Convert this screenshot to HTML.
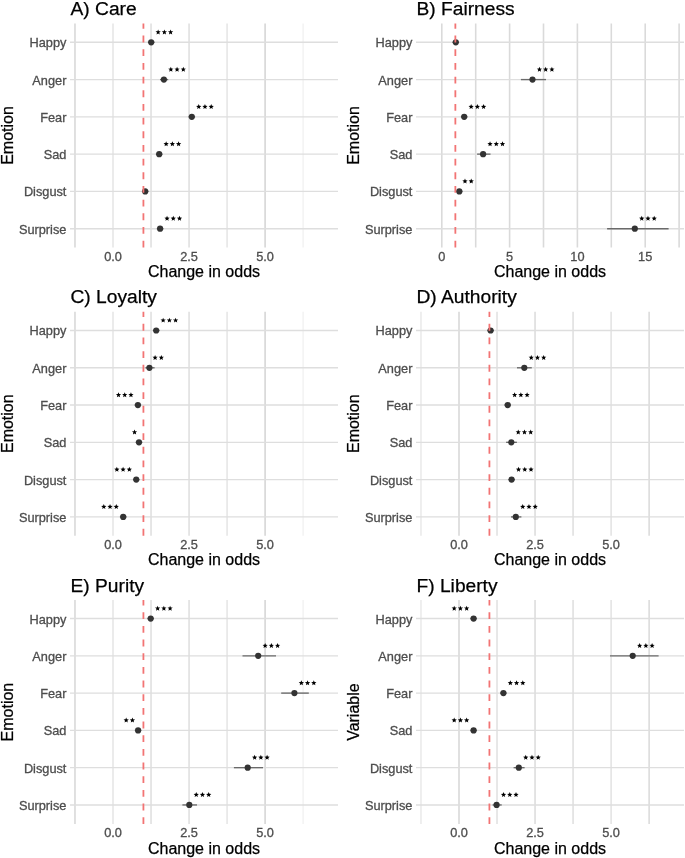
<!DOCTYPE html>
<html><head><meta charset="utf-8"><style>
html,body{margin:0;padding:0;background:#fff;}
svg{display:block;will-change:transform;}
text{font-family:"Liberation Sans",sans-serif;}
.gv{stroke-width:1.6;}
.gh{stroke:#dedede;stroke-width:1.4;}
.ref{stroke:#f27474;stroke-width:1.8;stroke-dasharray:6.83 6.84;}
.pt{fill:#333;}
.sr{fill:#000;}
.err{stroke:#6a6a6a;stroke-width:1.35;}
.yt{font-size:12.75px;fill:#4d4d4d;stroke:#4d4d4d;stroke-width:0.3;text-anchor:end;}
.xt{font-size:12.75px;fill:#4d4d4d;stroke:#4d4d4d;stroke-width:0.3;text-anchor:middle;}
.ttl{font-size:19.2px;fill:#000;stroke:#000;stroke-width:0.25;}
.axt{font-size:16px;fill:#000;stroke:#000;stroke-width:0.25;text-anchor:middle;}
</style></head><body>
<svg width="685" height="858" viewBox="0 0 685 858">
<rect width="685" height="858" fill="#fff"/>
<g transform="translate(0,0)">
<line class="gv" stroke="#d9d9d9" x1="74.97" y1="23.5" x2="74.97" y2="247.5"/>
<line class="gv" stroke="#e6e6e6" x1="113" y1="23.5" x2="113" y2="247.5"/>
<line class="gv" stroke="#e0e0e0" x1="151.03" y1="23.5" x2="151.03" y2="247.5"/>
<line class="gv" stroke="#e0e0e0" x1="189.05" y1="23.5" x2="189.05" y2="247.5"/>
<line class="gv" stroke="#e6e6e6" x1="227.07" y1="23.5" x2="227.07" y2="247.5"/>
<line class="gv" stroke="#d6d6d6" x1="265.1" y1="23.5" x2="265.1" y2="247.5"/>
<line class="gv" stroke="#f3f3f3" x1="303.12" y1="23.5" x2="303.12" y2="247.5"/>
<line class="gh" x1="70" y1="42.3" x2="338" y2="42.3"/>
<line class="gh" x1="70" y1="79.58" x2="338" y2="79.58"/>
<line class="gh" x1="70" y1="116.86" x2="338" y2="116.86"/>
<line class="gh" x1="70" y1="154.14" x2="338" y2="154.14"/>
<line class="gh" x1="70" y1="191.42" x2="338" y2="191.42"/>
<line class="gh" x1="70" y1="228.7" x2="338" y2="228.7"/>
<line class="err" x1="147.9" y1="42.3" x2="154.5" y2="42.3"/>
<circle class="pt" cx="151.2" cy="42.3" r="3.1"/>
<polygon class="sr" transform="translate(158.14,32.2)" points="0.00,-2.75 0.71,-0.98 2.62,-0.85 1.15,0.37 1.62,2.22 0.00,1.21 -1.62,2.22 -1.15,0.37 -2.62,-0.85 -0.71,-0.98"/>
<polygon class="sr" transform="translate(164.37,32.2)" points="0.00,-2.75 0.71,-0.98 2.62,-0.85 1.15,0.37 1.62,2.22 0.00,1.21 -1.62,2.22 -1.15,0.37 -2.62,-0.85 -0.71,-0.98"/>
<polygon class="sr" transform="translate(170.6,32.2)" points="0.00,-2.75 0.71,-0.98 2.62,-0.85 1.15,0.37 1.62,2.22 0.00,1.21 -1.62,2.22 -1.15,0.37 -2.62,-0.85 -0.71,-0.98"/>
<line class="err" x1="160" y1="79.58" x2="168.2" y2="79.58"/>
<circle class="pt" cx="163.9" cy="79.58" r="3.1"/>
<polygon class="sr" transform="translate(170.84,69.48)" points="0.00,-2.75 0.71,-0.98 2.62,-0.85 1.15,0.37 1.62,2.22 0.00,1.21 -1.62,2.22 -1.15,0.37 -2.62,-0.85 -0.71,-0.98"/>
<polygon class="sr" transform="translate(177.07,69.48)" points="0.00,-2.75 0.71,-0.98 2.62,-0.85 1.15,0.37 1.62,2.22 0.00,1.21 -1.62,2.22 -1.15,0.37 -2.62,-0.85 -0.71,-0.98"/>
<polygon class="sr" transform="translate(183.3,69.48)" points="0.00,-2.75 0.71,-0.98 2.62,-0.85 1.15,0.37 1.62,2.22 0.00,1.21 -1.62,2.22 -1.15,0.37 -2.62,-0.85 -0.71,-0.98"/>
<line class="err" x1="188.5" y1="116.86" x2="195.1" y2="116.86"/>
<circle class="pt" cx="191.8" cy="116.86" r="3.1"/>
<polygon class="sr" transform="translate(198.74,106.76)" points="0.00,-2.75 0.71,-0.98 2.62,-0.85 1.15,0.37 1.62,2.22 0.00,1.21 -1.62,2.22 -1.15,0.37 -2.62,-0.85 -0.71,-0.98"/>
<polygon class="sr" transform="translate(204.97,106.76)" points="0.00,-2.75 0.71,-0.98 2.62,-0.85 1.15,0.37 1.62,2.22 0.00,1.21 -1.62,2.22 -1.15,0.37 -2.62,-0.85 -0.71,-0.98"/>
<polygon class="sr" transform="translate(211.2,106.76)" points="0.00,-2.75 0.71,-0.98 2.62,-0.85 1.15,0.37 1.62,2.22 0.00,1.21 -1.62,2.22 -1.15,0.37 -2.62,-0.85 -0.71,-0.98"/>
<line class="err" x1="155.9" y1="154.14" x2="162.5" y2="154.14"/>
<circle class="pt" cx="159.2" cy="154.14" r="3.1"/>
<polygon class="sr" transform="translate(166.14,144.04)" points="0.00,-2.75 0.71,-0.98 2.62,-0.85 1.15,0.37 1.62,2.22 0.00,1.21 -1.62,2.22 -1.15,0.37 -2.62,-0.85 -0.71,-0.98"/>
<polygon class="sr" transform="translate(172.37,144.04)" points="0.00,-2.75 0.71,-0.98 2.62,-0.85 1.15,0.37 1.62,2.22 0.00,1.21 -1.62,2.22 -1.15,0.37 -2.62,-0.85 -0.71,-0.98"/>
<polygon class="sr" transform="translate(178.6,144.04)" points="0.00,-2.75 0.71,-0.98 2.62,-0.85 1.15,0.37 1.62,2.22 0.00,1.21 -1.62,2.22 -1.15,0.37 -2.62,-0.85 -0.71,-0.98"/>
<line class="err" x1="141.9" y1="191.42" x2="148.5" y2="191.42"/>
<circle class="pt" cx="145.2" cy="191.42" r="3.1"/>
<line class="err" x1="156.8" y1="228.7" x2="163.4" y2="228.7"/>
<circle class="pt" cx="160.1" cy="228.7" r="3.1"/>
<polygon class="sr" transform="translate(167.04,218.6)" points="0.00,-2.75 0.71,-0.98 2.62,-0.85 1.15,0.37 1.62,2.22 0.00,1.21 -1.62,2.22 -1.15,0.37 -2.62,-0.85 -0.71,-0.98"/>
<polygon class="sr" transform="translate(173.27,218.6)" points="0.00,-2.75 0.71,-0.98 2.62,-0.85 1.15,0.37 1.62,2.22 0.00,1.21 -1.62,2.22 -1.15,0.37 -2.62,-0.85 -0.71,-0.98"/>
<polygon class="sr" transform="translate(179.5,218.6)" points="0.00,-2.75 0.71,-0.98 2.62,-0.85 1.15,0.37 1.62,2.22 0.00,1.21 -1.62,2.22 -1.15,0.37 -2.62,-0.85 -0.71,-0.98"/>
<line class="ref" x1="143.42" y1="247.5" x2="143.42" y2="23.5"/>
<text class="yt" x="66.4" y="47.3">Happy</text>
<text class="yt" x="66.4" y="84.58">Anger</text>
<text class="yt" x="66.4" y="121.86">Fear</text>
<text class="yt" x="66.4" y="159.14">Sad</text>
<text class="yt" x="66.4" y="196.42">Disgust</text>
<text class="yt" x="66.4" y="233.7">Surprise</text>
<text class="xt" x="113" y="260.8">0.0</text>
<text class="xt" x="189.05" y="260.8">2.5</text>
<text class="xt" x="265.1" y="260.8">5.0</text>
<text class="ttl" x="70.5" y="15">A) Care</text>
<text class="axt" x="204" y="277.3">Change in odds</text>
<text class="axt" transform="translate(13,135.5) rotate(-90)" x="0" y="0">Emotion</text>
</g>
<g transform="translate(346,0)">
<line class="gv" stroke="#dadada" x1="95.8" y1="23.5" x2="95.8" y2="247.5"/>
<line class="gv" stroke="#dadada" x1="129.7" y1="23.5" x2="129.7" y2="247.5"/>
<line class="gv" stroke="#dadada" x1="163.6" y1="23.5" x2="163.6" y2="247.5"/>
<line class="gv" stroke="#dadada" x1="197.5" y1="23.5" x2="197.5" y2="247.5"/>
<line class="gv" stroke="#dadada" x1="231.4" y1="23.5" x2="231.4" y2="247.5"/>
<line class="gv" stroke="#dadada" x1="265.3" y1="23.5" x2="265.3" y2="247.5"/>
<line class="gv" stroke="#dadada" x1="299.2" y1="23.5" x2="299.2" y2="247.5"/>
<line class="gv" stroke="#dadada" x1="333.1" y1="23.5" x2="333.1" y2="247.5"/>
<line class="gh" x1="70" y1="42.3" x2="338" y2="42.3"/>
<line class="gh" x1="70" y1="79.58" x2="338" y2="79.58"/>
<line class="gh" x1="70" y1="116.86" x2="338" y2="116.86"/>
<line class="gh" x1="70" y1="154.14" x2="338" y2="154.14"/>
<line class="gh" x1="70" y1="191.42" x2="338" y2="191.42"/>
<line class="gh" x1="70" y1="228.7" x2="338" y2="228.7"/>
<line class="err" x1="106.5" y1="42.3" x2="113.1" y2="42.3"/>
<circle class="pt" cx="109.8" cy="42.3" r="3.1"/>
<line class="err" x1="174.9" y1="79.58" x2="200" y2="79.58"/>
<circle class="pt" cx="186.5" cy="79.58" r="3.1"/>
<polygon class="sr" transform="translate(193.44,69.48)" points="0.00,-2.75 0.71,-0.98 2.62,-0.85 1.15,0.37 1.62,2.22 0.00,1.21 -1.62,2.22 -1.15,0.37 -2.62,-0.85 -0.71,-0.98"/>
<polygon class="sr" transform="translate(199.67,69.48)" points="0.00,-2.75 0.71,-0.98 2.62,-0.85 1.15,0.37 1.62,2.22 0.00,1.21 -1.62,2.22 -1.15,0.37 -2.62,-0.85 -0.71,-0.98"/>
<polygon class="sr" transform="translate(205.9,69.48)" points="0.00,-2.75 0.71,-0.98 2.62,-0.85 1.15,0.37 1.62,2.22 0.00,1.21 -1.62,2.22 -1.15,0.37 -2.62,-0.85 -0.71,-0.98"/>
<line class="err" x1="114.9" y1="116.86" x2="121.5" y2="116.86"/>
<circle class="pt" cx="118.2" cy="116.86" r="3.1"/>
<polygon class="sr" transform="translate(125.14,106.76)" points="0.00,-2.75 0.71,-0.98 2.62,-0.85 1.15,0.37 1.62,2.22 0.00,1.21 -1.62,2.22 -1.15,0.37 -2.62,-0.85 -0.71,-0.98"/>
<polygon class="sr" transform="translate(131.37,106.76)" points="0.00,-2.75 0.71,-0.98 2.62,-0.85 1.15,0.37 1.62,2.22 0.00,1.21 -1.62,2.22 -1.15,0.37 -2.62,-0.85 -0.71,-0.98"/>
<polygon class="sr" transform="translate(137.6,106.76)" points="0.00,-2.75 0.71,-0.98 2.62,-0.85 1.15,0.37 1.62,2.22 0.00,1.21 -1.62,2.22 -1.15,0.37 -2.62,-0.85 -0.71,-0.98"/>
<line class="err" x1="131.1" y1="154.14" x2="144.5" y2="154.14"/>
<circle class="pt" cx="137.1" cy="154.14" r="3.1"/>
<polygon class="sr" transform="translate(144.04,144.04)" points="0.00,-2.75 0.71,-0.98 2.62,-0.85 1.15,0.37 1.62,2.22 0.00,1.21 -1.62,2.22 -1.15,0.37 -2.62,-0.85 -0.71,-0.98"/>
<polygon class="sr" transform="translate(150.27,144.04)" points="0.00,-2.75 0.71,-0.98 2.62,-0.85 1.15,0.37 1.62,2.22 0.00,1.21 -1.62,2.22 -1.15,0.37 -2.62,-0.85 -0.71,-0.98"/>
<polygon class="sr" transform="translate(156.5,144.04)" points="0.00,-2.75 0.71,-0.98 2.62,-0.85 1.15,0.37 1.62,2.22 0.00,1.21 -1.62,2.22 -1.15,0.37 -2.62,-0.85 -0.71,-0.98"/>
<line class="err" x1="110" y1="191.42" x2="116.6" y2="191.42"/>
<circle class="pt" cx="113.3" cy="191.42" r="3.1"/>
<polygon class="sr" transform="translate(118.99,181.32)" points="0.00,-2.75 0.71,-0.98 2.62,-0.85 1.15,0.37 1.62,2.22 0.00,1.21 -1.62,2.22 -1.15,0.37 -2.62,-0.85 -0.71,-0.98"/>
<polygon class="sr" transform="translate(125.22,181.32)" points="0.00,-2.75 0.71,-0.98 2.62,-0.85 1.15,0.37 1.62,2.22 0.00,1.21 -1.62,2.22 -1.15,0.37 -2.62,-0.85 -0.71,-0.98"/>
<line class="err" x1="261.1" y1="228.7" x2="322.6" y2="228.7"/>
<circle class="pt" cx="288.8" cy="228.7" r="3.1"/>
<polygon class="sr" transform="translate(295.74,218.6)" points="0.00,-2.75 0.71,-0.98 2.62,-0.85 1.15,0.37 1.62,2.22 0.00,1.21 -1.62,2.22 -1.15,0.37 -2.62,-0.85 -0.71,-0.98"/>
<polygon class="sr" transform="translate(301.97,218.6)" points="0.00,-2.75 0.71,-0.98 2.62,-0.85 1.15,0.37 1.62,2.22 0.00,1.21 -1.62,2.22 -1.15,0.37 -2.62,-0.85 -0.71,-0.98"/>
<polygon class="sr" transform="translate(308.2,218.6)" points="0.00,-2.75 0.71,-0.98 2.62,-0.85 1.15,0.37 1.62,2.22 0.00,1.21 -1.62,2.22 -1.15,0.37 -2.62,-0.85 -0.71,-0.98"/>
<line class="ref" x1="109.36" y1="247.5" x2="109.36" y2="23.5"/>
<text class="yt" x="66.4" y="47.3">Happy</text>
<text class="yt" x="66.4" y="84.58">Anger</text>
<text class="yt" x="66.4" y="121.86">Fear</text>
<text class="yt" x="66.4" y="159.14">Sad</text>
<text class="yt" x="66.4" y="196.42">Disgust</text>
<text class="yt" x="66.4" y="233.7">Surprise</text>
<text class="xt" x="95.8" y="260.8">0</text>
<text class="xt" x="163.6" y="260.8">5</text>
<text class="xt" x="231.4" y="260.8">10</text>
<text class="xt" x="299.2" y="260.8">15</text>
<text class="ttl" x="70.5" y="15">B) Fairness</text>
<text class="axt" x="204" y="277.3">Change in odds</text>
<text class="axt" transform="translate(13,135.5) rotate(-90)" x="0" y="0">Emotion</text>
</g>
<g transform="translate(0,288.2)">
<line class="gv" stroke="#d9d9d9" x1="74.97" y1="23.5" x2="74.97" y2="247.5"/>
<line class="gv" stroke="#e6e6e6" x1="113" y1="23.5" x2="113" y2="247.5"/>
<line class="gv" stroke="#e0e0e0" x1="151.03" y1="23.5" x2="151.03" y2="247.5"/>
<line class="gv" stroke="#e0e0e0" x1="189.05" y1="23.5" x2="189.05" y2="247.5"/>
<line class="gv" stroke="#e6e6e6" x1="227.07" y1="23.5" x2="227.07" y2="247.5"/>
<line class="gv" stroke="#d6d6d6" x1="265.1" y1="23.5" x2="265.1" y2="247.5"/>
<line class="gv" stroke="#f3f3f3" x1="303.12" y1="23.5" x2="303.12" y2="247.5"/>
<line class="gh" x1="70" y1="42.3" x2="338" y2="42.3"/>
<line class="gh" x1="70" y1="79.58" x2="338" y2="79.58"/>
<line class="gh" x1="70" y1="116.86" x2="338" y2="116.86"/>
<line class="gh" x1="70" y1="154.14" x2="338" y2="154.14"/>
<line class="gh" x1="70" y1="191.42" x2="338" y2="191.42"/>
<line class="gh" x1="70" y1="228.7" x2="338" y2="228.7"/>
<line class="err" x1="152.9" y1="42.3" x2="159.5" y2="42.3"/>
<circle class="pt" cx="156.2" cy="42.3" r="3.1"/>
<polygon class="sr" transform="translate(163.14,32.2)" points="0.00,-2.75 0.71,-0.98 2.62,-0.85 1.15,0.37 1.62,2.22 0.00,1.21 -1.62,2.22 -1.15,0.37 -2.62,-0.85 -0.71,-0.98"/>
<polygon class="sr" transform="translate(169.37,32.2)" points="0.00,-2.75 0.71,-0.98 2.62,-0.85 1.15,0.37 1.62,2.22 0.00,1.21 -1.62,2.22 -1.15,0.37 -2.62,-0.85 -0.71,-0.98"/>
<polygon class="sr" transform="translate(175.6,32.2)" points="0.00,-2.75 0.71,-0.98 2.62,-0.85 1.15,0.37 1.62,2.22 0.00,1.21 -1.62,2.22 -1.15,0.37 -2.62,-0.85 -0.71,-0.98"/>
<line class="err" x1="145.4" y1="79.58" x2="154.6" y2="79.58"/>
<circle class="pt" cx="149.4" cy="79.58" r="3.1"/>
<polygon class="sr" transform="translate(155.09,69.48)" points="0.00,-2.75 0.71,-0.98 2.62,-0.85 1.15,0.37 1.62,2.22 0.00,1.21 -1.62,2.22 -1.15,0.37 -2.62,-0.85 -0.71,-0.98"/>
<polygon class="sr" transform="translate(161.32,69.48)" points="0.00,-2.75 0.71,-0.98 2.62,-0.85 1.15,0.37 1.62,2.22 0.00,1.21 -1.62,2.22 -1.15,0.37 -2.62,-0.85 -0.71,-0.98"/>
<line class="err" x1="134.6" y1="116.86" x2="141.2" y2="116.86"/>
<circle class="pt" cx="137.9" cy="116.86" r="3.1"/>
<polygon class="sr" transform="translate(130.96,106.76)" points="0.00,-2.75 0.71,-0.98 2.62,-0.85 1.15,0.37 1.62,2.22 0.00,1.21 -1.62,2.22 -1.15,0.37 -2.62,-0.85 -0.71,-0.98"/>
<polygon class="sr" transform="translate(124.73,106.76)" points="0.00,-2.75 0.71,-0.98 2.62,-0.85 1.15,0.37 1.62,2.22 0.00,1.21 -1.62,2.22 -1.15,0.37 -2.62,-0.85 -0.71,-0.98"/>
<polygon class="sr" transform="translate(118.5,106.76)" points="0.00,-2.75 0.71,-0.98 2.62,-0.85 1.15,0.37 1.62,2.22 0.00,1.21 -1.62,2.22 -1.15,0.37 -2.62,-0.85 -0.71,-0.98"/>
<line class="err" x1="135.7" y1="154.14" x2="142.3" y2="154.14"/>
<circle class="pt" cx="139" cy="154.14" r="3.1"/>
<polygon class="sr" transform="translate(134.55,144.04)" points="0.00,-2.75 0.71,-0.98 2.62,-0.85 1.15,0.37 1.62,2.22 0.00,1.21 -1.62,2.22 -1.15,0.37 -2.62,-0.85 -0.71,-0.98"/>
<line class="err" x1="132.95" y1="191.42" x2="139.55" y2="191.42"/>
<circle class="pt" cx="136.25" cy="191.42" r="3.1"/>
<polygon class="sr" transform="translate(129.31,181.32)" points="0.00,-2.75 0.71,-0.98 2.62,-0.85 1.15,0.37 1.62,2.22 0.00,1.21 -1.62,2.22 -1.15,0.37 -2.62,-0.85 -0.71,-0.98"/>
<polygon class="sr" transform="translate(123.08,181.32)" points="0.00,-2.75 0.71,-0.98 2.62,-0.85 1.15,0.37 1.62,2.22 0.00,1.21 -1.62,2.22 -1.15,0.37 -2.62,-0.85 -0.71,-0.98"/>
<polygon class="sr" transform="translate(116.85,181.32)" points="0.00,-2.75 0.71,-0.98 2.62,-0.85 1.15,0.37 1.62,2.22 0.00,1.21 -1.62,2.22 -1.15,0.37 -2.62,-0.85 -0.71,-0.98"/>
<line class="err" x1="119.9" y1="228.7" x2="126.5" y2="228.7"/>
<circle class="pt" cx="123.2" cy="228.7" r="3.1"/>
<polygon class="sr" transform="translate(116.26,218.6)" points="0.00,-2.75 0.71,-0.98 2.62,-0.85 1.15,0.37 1.62,2.22 0.00,1.21 -1.62,2.22 -1.15,0.37 -2.62,-0.85 -0.71,-0.98"/>
<polygon class="sr" transform="translate(110.03,218.6)" points="0.00,-2.75 0.71,-0.98 2.62,-0.85 1.15,0.37 1.62,2.22 0.00,1.21 -1.62,2.22 -1.15,0.37 -2.62,-0.85 -0.71,-0.98"/>
<polygon class="sr" transform="translate(103.8,218.6)" points="0.00,-2.75 0.71,-0.98 2.62,-0.85 1.15,0.37 1.62,2.22 0.00,1.21 -1.62,2.22 -1.15,0.37 -2.62,-0.85 -0.71,-0.98"/>
<line class="ref" x1="143.42" y1="247.5" x2="143.42" y2="23.5"/>
<text class="yt" x="66.4" y="47.3">Happy</text>
<text class="yt" x="66.4" y="84.58">Anger</text>
<text class="yt" x="66.4" y="121.86">Fear</text>
<text class="yt" x="66.4" y="159.14">Sad</text>
<text class="yt" x="66.4" y="196.42">Disgust</text>
<text class="yt" x="66.4" y="233.7">Surprise</text>
<text class="xt" x="113" y="260.8">0.0</text>
<text class="xt" x="189.05" y="260.8">2.5</text>
<text class="xt" x="265.1" y="260.8">5.0</text>
<text class="ttl" x="70.5" y="15">C) Loyalty</text>
<text class="axt" x="204" y="277.3">Change in odds</text>
<text class="axt" transform="translate(13,135.5) rotate(-90)" x="0" y="0">Emotion</text>
</g>
<g transform="translate(346,288.2)">
<line class="gv" stroke="#ebebeb" x1="74.97" y1="23.5" x2="74.97" y2="247.5"/>
<line class="gv" stroke="#d9d9d9" x1="113" y1="23.5" x2="113" y2="247.5"/>
<line class="gv" stroke="#e2e2e2" x1="151.03" y1="23.5" x2="151.03" y2="247.5"/>
<line class="gv" stroke="#dddddd" x1="189.05" y1="23.5" x2="189.05" y2="247.5"/>
<line class="gv" stroke="#e0e0e0" x1="227.07" y1="23.5" x2="227.07" y2="247.5"/>
<line class="gv" stroke="#e4e4e4" x1="265.1" y1="23.5" x2="265.1" y2="247.5"/>
<line class="gv" stroke="#dcdcdc" x1="303.12" y1="23.5" x2="303.12" y2="247.5"/>
<line class="gh" x1="70" y1="42.3" x2="338" y2="42.3"/>
<line class="gh" x1="70" y1="79.58" x2="338" y2="79.58"/>
<line class="gh" x1="70" y1="116.86" x2="338" y2="116.86"/>
<line class="gh" x1="70" y1="154.14" x2="338" y2="154.14"/>
<line class="gh" x1="70" y1="191.42" x2="338" y2="191.42"/>
<line class="gh" x1="70" y1="228.7" x2="338" y2="228.7"/>
<line class="err" x1="141.3" y1="42.3" x2="147.9" y2="42.3"/>
<circle class="pt" cx="144.6" cy="42.3" r="3.1"/>
<line class="err" x1="171" y1="79.58" x2="185.8" y2="79.58"/>
<circle class="pt" cx="178.3" cy="79.58" r="3.1"/>
<polygon class="sr" transform="translate(185.24,69.48)" points="0.00,-2.75 0.71,-0.98 2.62,-0.85 1.15,0.37 1.62,2.22 0.00,1.21 -1.62,2.22 -1.15,0.37 -2.62,-0.85 -0.71,-0.98"/>
<polygon class="sr" transform="translate(191.47,69.48)" points="0.00,-2.75 0.71,-0.98 2.62,-0.85 1.15,0.37 1.62,2.22 0.00,1.21 -1.62,2.22 -1.15,0.37 -2.62,-0.85 -0.71,-0.98"/>
<polygon class="sr" transform="translate(197.7,69.48)" points="0.00,-2.75 0.71,-0.98 2.62,-0.85 1.15,0.37 1.62,2.22 0.00,1.21 -1.62,2.22 -1.15,0.37 -2.62,-0.85 -0.71,-0.98"/>
<line class="err" x1="158.4" y1="116.86" x2="165" y2="116.86"/>
<circle class="pt" cx="161.7" cy="116.86" r="3.1"/>
<polygon class="sr" transform="translate(168.64,106.76)" points="0.00,-2.75 0.71,-0.98 2.62,-0.85 1.15,0.37 1.62,2.22 0.00,1.21 -1.62,2.22 -1.15,0.37 -2.62,-0.85 -0.71,-0.98"/>
<polygon class="sr" transform="translate(174.87,106.76)" points="0.00,-2.75 0.71,-0.98 2.62,-0.85 1.15,0.37 1.62,2.22 0.00,1.21 -1.62,2.22 -1.15,0.37 -2.62,-0.85 -0.71,-0.98"/>
<polygon class="sr" transform="translate(181.1,106.76)" points="0.00,-2.75 0.71,-0.98 2.62,-0.85 1.15,0.37 1.62,2.22 0.00,1.21 -1.62,2.22 -1.15,0.37 -2.62,-0.85 -0.71,-0.98"/>
<line class="err" x1="160.1" y1="154.14" x2="170.9" y2="154.14"/>
<circle class="pt" cx="165.3" cy="154.14" r="3.1"/>
<polygon class="sr" transform="translate(172.24,144.04)" points="0.00,-2.75 0.71,-0.98 2.62,-0.85 1.15,0.37 1.62,2.22 0.00,1.21 -1.62,2.22 -1.15,0.37 -2.62,-0.85 -0.71,-0.98"/>
<polygon class="sr" transform="translate(178.47,144.04)" points="0.00,-2.75 0.71,-0.98 2.62,-0.85 1.15,0.37 1.62,2.22 0.00,1.21 -1.62,2.22 -1.15,0.37 -2.62,-0.85 -0.71,-0.98"/>
<polygon class="sr" transform="translate(184.7,144.04)" points="0.00,-2.75 0.71,-0.98 2.62,-0.85 1.15,0.37 1.62,2.22 0.00,1.21 -1.62,2.22 -1.15,0.37 -2.62,-0.85 -0.71,-0.98"/>
<line class="err" x1="162.3" y1="191.42" x2="168.9" y2="191.42"/>
<circle class="pt" cx="165.6" cy="191.42" r="3.1"/>
<polygon class="sr" transform="translate(172.54,181.32)" points="0.00,-2.75 0.71,-0.98 2.62,-0.85 1.15,0.37 1.62,2.22 0.00,1.21 -1.62,2.22 -1.15,0.37 -2.62,-0.85 -0.71,-0.98"/>
<polygon class="sr" transform="translate(178.77,181.32)" points="0.00,-2.75 0.71,-0.98 2.62,-0.85 1.15,0.37 1.62,2.22 0.00,1.21 -1.62,2.22 -1.15,0.37 -2.62,-0.85 -0.71,-0.98"/>
<polygon class="sr" transform="translate(185,181.32)" points="0.00,-2.75 0.71,-0.98 2.62,-0.85 1.15,0.37 1.62,2.22 0.00,1.21 -1.62,2.22 -1.15,0.37 -2.62,-0.85 -0.71,-0.98"/>
<line class="err" x1="165" y1="228.7" x2="175.4" y2="228.7"/>
<circle class="pt" cx="169.8" cy="228.7" r="3.1"/>
<polygon class="sr" transform="translate(176.74,218.6)" points="0.00,-2.75 0.71,-0.98 2.62,-0.85 1.15,0.37 1.62,2.22 0.00,1.21 -1.62,2.22 -1.15,0.37 -2.62,-0.85 -0.71,-0.98"/>
<polygon class="sr" transform="translate(182.97,218.6)" points="0.00,-2.75 0.71,-0.98 2.62,-0.85 1.15,0.37 1.62,2.22 0.00,1.21 -1.62,2.22 -1.15,0.37 -2.62,-0.85 -0.71,-0.98"/>
<polygon class="sr" transform="translate(189.2,218.6)" points="0.00,-2.75 0.71,-0.98 2.62,-0.85 1.15,0.37 1.62,2.22 0.00,1.21 -1.62,2.22 -1.15,0.37 -2.62,-0.85 -0.71,-0.98"/>
<line class="ref" x1="143.42" y1="247.5" x2="143.42" y2="23.5"/>
<text class="yt" x="66.4" y="47.3">Happy</text>
<text class="yt" x="66.4" y="84.58">Anger</text>
<text class="yt" x="66.4" y="121.86">Fear</text>
<text class="yt" x="66.4" y="159.14">Sad</text>
<text class="yt" x="66.4" y="196.42">Disgust</text>
<text class="yt" x="66.4" y="233.7">Surprise</text>
<text class="xt" x="113" y="260.8">0.0</text>
<text class="xt" x="189.05" y="260.8">2.5</text>
<text class="xt" x="265.1" y="260.8">5.0</text>
<text class="ttl" x="70.5" y="15">D) Authority</text>
<text class="axt" x="204" y="277.3">Change in odds</text>
<text class="axt" transform="translate(13,135.5) rotate(-90)" x="0" y="0">Emotion</text>
</g>
<g transform="translate(0,576.6)">
<line class="gv" stroke="#d9d9d9" x1="74.97" y1="23.5" x2="74.97" y2="247.5"/>
<line class="gv" stroke="#e6e6e6" x1="113" y1="23.5" x2="113" y2="247.5"/>
<line class="gv" stroke="#e0e0e0" x1="151.03" y1="23.5" x2="151.03" y2="247.5"/>
<line class="gv" stroke="#e0e0e0" x1="189.05" y1="23.5" x2="189.05" y2="247.5"/>
<line class="gv" stroke="#e6e6e6" x1="227.07" y1="23.5" x2="227.07" y2="247.5"/>
<line class="gv" stroke="#d6d6d6" x1="265.1" y1="23.5" x2="265.1" y2="247.5"/>
<line class="gv" stroke="#f3f3f3" x1="303.12" y1="23.5" x2="303.12" y2="247.5"/>
<line class="gh" x1="70" y1="41.95" x2="338" y2="41.95"/>
<line class="gh" x1="70" y1="79.23" x2="338" y2="79.23"/>
<line class="gh" x1="70" y1="116.51" x2="338" y2="116.51"/>
<line class="gh" x1="70" y1="153.79" x2="338" y2="153.79"/>
<line class="gh" x1="70" y1="191.07" x2="338" y2="191.07"/>
<line class="gh" x1="70" y1="228.35" x2="338" y2="228.35"/>
<line class="err" x1="147.4" y1="41.95" x2="154" y2="41.95"/>
<circle class="pt" cx="150.7" cy="41.95" r="3.1"/>
<polygon class="sr" transform="translate(157.64,31.85)" points="0.00,-2.75 0.71,-0.98 2.62,-0.85 1.15,0.37 1.62,2.22 0.00,1.21 -1.62,2.22 -1.15,0.37 -2.62,-0.85 -0.71,-0.98"/>
<polygon class="sr" transform="translate(163.87,31.85)" points="0.00,-2.75 0.71,-0.98 2.62,-0.85 1.15,0.37 1.62,2.22 0.00,1.21 -1.62,2.22 -1.15,0.37 -2.62,-0.85 -0.71,-0.98"/>
<polygon class="sr" transform="translate(170.1,31.85)" points="0.00,-2.75 0.71,-0.98 2.62,-0.85 1.15,0.37 1.62,2.22 0.00,1.21 -1.62,2.22 -1.15,0.37 -2.62,-0.85 -0.71,-0.98"/>
<line class="err" x1="242.5" y1="79.23" x2="276" y2="79.23"/>
<circle class="pt" cx="258.2" cy="79.23" r="3.1"/>
<polygon class="sr" transform="translate(265.14,69.13)" points="0.00,-2.75 0.71,-0.98 2.62,-0.85 1.15,0.37 1.62,2.22 0.00,1.21 -1.62,2.22 -1.15,0.37 -2.62,-0.85 -0.71,-0.98"/>
<polygon class="sr" transform="translate(271.37,69.13)" points="0.00,-2.75 0.71,-0.98 2.62,-0.85 1.15,0.37 1.62,2.22 0.00,1.21 -1.62,2.22 -1.15,0.37 -2.62,-0.85 -0.71,-0.98"/>
<polygon class="sr" transform="translate(277.6,69.13)" points="0.00,-2.75 0.71,-0.98 2.62,-0.85 1.15,0.37 1.62,2.22 0.00,1.21 -1.62,2.22 -1.15,0.37 -2.62,-0.85 -0.71,-0.98"/>
<line class="err" x1="281.2" y1="116.51" x2="308.8" y2="116.51"/>
<circle class="pt" cx="294.4" cy="116.51" r="3.1"/>
<polygon class="sr" transform="translate(301.34,106.41)" points="0.00,-2.75 0.71,-0.98 2.62,-0.85 1.15,0.37 1.62,2.22 0.00,1.21 -1.62,2.22 -1.15,0.37 -2.62,-0.85 -0.71,-0.98"/>
<polygon class="sr" transform="translate(307.57,106.41)" points="0.00,-2.75 0.71,-0.98 2.62,-0.85 1.15,0.37 1.62,2.22 0.00,1.21 -1.62,2.22 -1.15,0.37 -2.62,-0.85 -0.71,-0.98"/>
<polygon class="sr" transform="translate(313.8,106.41)" points="0.00,-2.75 0.71,-0.98 2.62,-0.85 1.15,0.37 1.62,2.22 0.00,1.21 -1.62,2.22 -1.15,0.37 -2.62,-0.85 -0.71,-0.98"/>
<line class="err" x1="134.8" y1="153.79" x2="141.4" y2="153.79"/>
<circle class="pt" cx="138.1" cy="153.79" r="3.1"/>
<polygon class="sr" transform="translate(132.41,143.69)" points="0.00,-2.75 0.71,-0.98 2.62,-0.85 1.15,0.37 1.62,2.22 0.00,1.21 -1.62,2.22 -1.15,0.37 -2.62,-0.85 -0.71,-0.98"/>
<polygon class="sr" transform="translate(126.18,143.69)" points="0.00,-2.75 0.71,-0.98 2.62,-0.85 1.15,0.37 1.62,2.22 0.00,1.21 -1.62,2.22 -1.15,0.37 -2.62,-0.85 -0.71,-0.98"/>
<line class="err" x1="233.9" y1="191.07" x2="263" y2="191.07"/>
<circle class="pt" cx="247.7" cy="191.07" r="3.1"/>
<polygon class="sr" transform="translate(254.64,180.97)" points="0.00,-2.75 0.71,-0.98 2.62,-0.85 1.15,0.37 1.62,2.22 0.00,1.21 -1.62,2.22 -1.15,0.37 -2.62,-0.85 -0.71,-0.98"/>
<polygon class="sr" transform="translate(260.87,180.97)" points="0.00,-2.75 0.71,-0.98 2.62,-0.85 1.15,0.37 1.62,2.22 0.00,1.21 -1.62,2.22 -1.15,0.37 -2.62,-0.85 -0.71,-0.98"/>
<polygon class="sr" transform="translate(267.1,180.97)" points="0.00,-2.75 0.71,-0.98 2.62,-0.85 1.15,0.37 1.62,2.22 0.00,1.21 -1.62,2.22 -1.15,0.37 -2.62,-0.85 -0.71,-0.98"/>
<line class="err" x1="182.4" y1="228.35" x2="197" y2="228.35"/>
<circle class="pt" cx="189.3" cy="228.35" r="3.1"/>
<polygon class="sr" transform="translate(196.24,218.25)" points="0.00,-2.75 0.71,-0.98 2.62,-0.85 1.15,0.37 1.62,2.22 0.00,1.21 -1.62,2.22 -1.15,0.37 -2.62,-0.85 -0.71,-0.98"/>
<polygon class="sr" transform="translate(202.47,218.25)" points="0.00,-2.75 0.71,-0.98 2.62,-0.85 1.15,0.37 1.62,2.22 0.00,1.21 -1.62,2.22 -1.15,0.37 -2.62,-0.85 -0.71,-0.98"/>
<polygon class="sr" transform="translate(208.7,218.25)" points="0.00,-2.75 0.71,-0.98 2.62,-0.85 1.15,0.37 1.62,2.22 0.00,1.21 -1.62,2.22 -1.15,0.37 -2.62,-0.85 -0.71,-0.98"/>
<line class="ref" x1="143.42" y1="247.5" x2="143.42" y2="23.5"/>
<text class="yt" x="66.4" y="46.95">Happy</text>
<text class="yt" x="66.4" y="84.23">Anger</text>
<text class="yt" x="66.4" y="121.51">Fear</text>
<text class="yt" x="66.4" y="158.79">Sad</text>
<text class="yt" x="66.4" y="196.07">Disgust</text>
<text class="yt" x="66.4" y="233.35">Surprise</text>
<text class="xt" x="113" y="260.8">0.0</text>
<text class="xt" x="189.05" y="260.8">2.5</text>
<text class="xt" x="265.1" y="260.8">5.0</text>
<text class="ttl" x="70.5" y="15">E) Purity</text>
<text class="axt" x="204" y="277.3">Change in odds</text>
<text class="axt" transform="translate(13,135.5) rotate(-90)" x="0" y="0">Emotion</text>
</g>
<g transform="translate(346,576.6)">
<line class="gv" stroke="#ebebeb" x1="74.97" y1="23.5" x2="74.97" y2="247.5"/>
<line class="gv" stroke="#d9d9d9" x1="113" y1="23.5" x2="113" y2="247.5"/>
<line class="gv" stroke="#e2e2e2" x1="151.03" y1="23.5" x2="151.03" y2="247.5"/>
<line class="gv" stroke="#dddddd" x1="189.05" y1="23.5" x2="189.05" y2="247.5"/>
<line class="gv" stroke="#e0e0e0" x1="227.07" y1="23.5" x2="227.07" y2="247.5"/>
<line class="gv" stroke="#e4e4e4" x1="265.1" y1="23.5" x2="265.1" y2="247.5"/>
<line class="gv" stroke="#dcdcdc" x1="303.12" y1="23.5" x2="303.12" y2="247.5"/>
<line class="gh" x1="70" y1="41.95" x2="338" y2="41.95"/>
<line class="gh" x1="70" y1="79.23" x2="338" y2="79.23"/>
<line class="gh" x1="70" y1="116.51" x2="338" y2="116.51"/>
<line class="gh" x1="70" y1="153.79" x2="338" y2="153.79"/>
<line class="gh" x1="70" y1="191.07" x2="338" y2="191.07"/>
<line class="gh" x1="70" y1="228.35" x2="338" y2="228.35"/>
<line class="err" x1="124.3" y1="41.95" x2="130.9" y2="41.95"/>
<circle class="pt" cx="127.6" cy="41.95" r="3.1"/>
<polygon class="sr" transform="translate(120.66,31.85)" points="0.00,-2.75 0.71,-0.98 2.62,-0.85 1.15,0.37 1.62,2.22 0.00,1.21 -1.62,2.22 -1.15,0.37 -2.62,-0.85 -0.71,-0.98"/>
<polygon class="sr" transform="translate(114.43,31.85)" points="0.00,-2.75 0.71,-0.98 2.62,-0.85 1.15,0.37 1.62,2.22 0.00,1.21 -1.62,2.22 -1.15,0.37 -2.62,-0.85 -0.71,-0.98"/>
<polygon class="sr" transform="translate(108.2,31.85)" points="0.00,-2.75 0.71,-0.98 2.62,-0.85 1.15,0.37 1.62,2.22 0.00,1.21 -1.62,2.22 -1.15,0.37 -2.62,-0.85 -0.71,-0.98"/>
<line class="err" x1="264" y1="79.23" x2="312.6" y2="79.23"/>
<circle class="pt" cx="286.7" cy="79.23" r="3.1"/>
<polygon class="sr" transform="translate(293.64,69.13)" points="0.00,-2.75 0.71,-0.98 2.62,-0.85 1.15,0.37 1.62,2.22 0.00,1.21 -1.62,2.22 -1.15,0.37 -2.62,-0.85 -0.71,-0.98"/>
<polygon class="sr" transform="translate(299.87,69.13)" points="0.00,-2.75 0.71,-0.98 2.62,-0.85 1.15,0.37 1.62,2.22 0.00,1.21 -1.62,2.22 -1.15,0.37 -2.62,-0.85 -0.71,-0.98"/>
<polygon class="sr" transform="translate(306.1,69.13)" points="0.00,-2.75 0.71,-0.98 2.62,-0.85 1.15,0.37 1.62,2.22 0.00,1.21 -1.62,2.22 -1.15,0.37 -2.62,-0.85 -0.71,-0.98"/>
<line class="err" x1="154.1" y1="116.51" x2="160.7" y2="116.51"/>
<circle class="pt" cx="157.4" cy="116.51" r="3.1"/>
<polygon class="sr" transform="translate(164.34,106.41)" points="0.00,-2.75 0.71,-0.98 2.62,-0.85 1.15,0.37 1.62,2.22 0.00,1.21 -1.62,2.22 -1.15,0.37 -2.62,-0.85 -0.71,-0.98"/>
<polygon class="sr" transform="translate(170.57,106.41)" points="0.00,-2.75 0.71,-0.98 2.62,-0.85 1.15,0.37 1.62,2.22 0.00,1.21 -1.62,2.22 -1.15,0.37 -2.62,-0.85 -0.71,-0.98"/>
<polygon class="sr" transform="translate(176.8,106.41)" points="0.00,-2.75 0.71,-0.98 2.62,-0.85 1.15,0.37 1.62,2.22 0.00,1.21 -1.62,2.22 -1.15,0.37 -2.62,-0.85 -0.71,-0.98"/>
<line class="err" x1="124.3" y1="153.79" x2="130.9" y2="153.79"/>
<circle class="pt" cx="127.6" cy="153.79" r="3.1"/>
<polygon class="sr" transform="translate(120.66,143.69)" points="0.00,-2.75 0.71,-0.98 2.62,-0.85 1.15,0.37 1.62,2.22 0.00,1.21 -1.62,2.22 -1.15,0.37 -2.62,-0.85 -0.71,-0.98"/>
<polygon class="sr" transform="translate(114.43,143.69)" points="0.00,-2.75 0.71,-0.98 2.62,-0.85 1.15,0.37 1.62,2.22 0.00,1.21 -1.62,2.22 -1.15,0.37 -2.62,-0.85 -0.71,-0.98"/>
<polygon class="sr" transform="translate(108.2,143.69)" points="0.00,-2.75 0.71,-0.98 2.62,-0.85 1.15,0.37 1.62,2.22 0.00,1.21 -1.62,2.22 -1.15,0.37 -2.62,-0.85 -0.71,-0.98"/>
<line class="err" x1="167.6" y1="191.07" x2="178.6" y2="191.07"/>
<circle class="pt" cx="172.8" cy="191.07" r="3.1"/>
<polygon class="sr" transform="translate(179.74,180.97)" points="0.00,-2.75 0.71,-0.98 2.62,-0.85 1.15,0.37 1.62,2.22 0.00,1.21 -1.62,2.22 -1.15,0.37 -2.62,-0.85 -0.71,-0.98"/>
<polygon class="sr" transform="translate(185.97,180.97)" points="0.00,-2.75 0.71,-0.98 2.62,-0.85 1.15,0.37 1.62,2.22 0.00,1.21 -1.62,2.22 -1.15,0.37 -2.62,-0.85 -0.71,-0.98"/>
<polygon class="sr" transform="translate(192.2,180.97)" points="0.00,-2.75 0.71,-0.98 2.62,-0.85 1.15,0.37 1.62,2.22 0.00,1.21 -1.62,2.22 -1.15,0.37 -2.62,-0.85 -0.71,-0.98"/>
<line class="err" x1="146.6" y1="228.35" x2="155.7" y2="228.35"/>
<circle class="pt" cx="150.6" cy="228.35" r="3.1"/>
<polygon class="sr" transform="translate(157.54,218.25)" points="0.00,-2.75 0.71,-0.98 2.62,-0.85 1.15,0.37 1.62,2.22 0.00,1.21 -1.62,2.22 -1.15,0.37 -2.62,-0.85 -0.71,-0.98"/>
<polygon class="sr" transform="translate(163.77,218.25)" points="0.00,-2.75 0.71,-0.98 2.62,-0.85 1.15,0.37 1.62,2.22 0.00,1.21 -1.62,2.22 -1.15,0.37 -2.62,-0.85 -0.71,-0.98"/>
<polygon class="sr" transform="translate(170,218.25)" points="0.00,-2.75 0.71,-0.98 2.62,-0.85 1.15,0.37 1.62,2.22 0.00,1.21 -1.62,2.22 -1.15,0.37 -2.62,-0.85 -0.71,-0.98"/>
<line class="ref" x1="143.42" y1="247.5" x2="143.42" y2="23.5"/>
<text class="yt" x="66.4" y="46.95">Happy</text>
<text class="yt" x="66.4" y="84.23">Anger</text>
<text class="yt" x="66.4" y="121.51">Fear</text>
<text class="yt" x="66.4" y="158.79">Sad</text>
<text class="yt" x="66.4" y="196.07">Disgust</text>
<text class="yt" x="66.4" y="233.35">Surprise</text>
<text class="xt" x="113" y="260.8">0.0</text>
<text class="xt" x="189.05" y="260.8">2.5</text>
<text class="xt" x="265.1" y="260.8">5.0</text>
<text class="ttl" x="70.5" y="15">F) Liberty</text>
<text class="axt" x="204" y="277.3">Change in odds</text>
<text class="axt" transform="translate(13,135.5) rotate(-90)" x="0" y="0">Variable</text>
</g>
</svg>
</body></html>
